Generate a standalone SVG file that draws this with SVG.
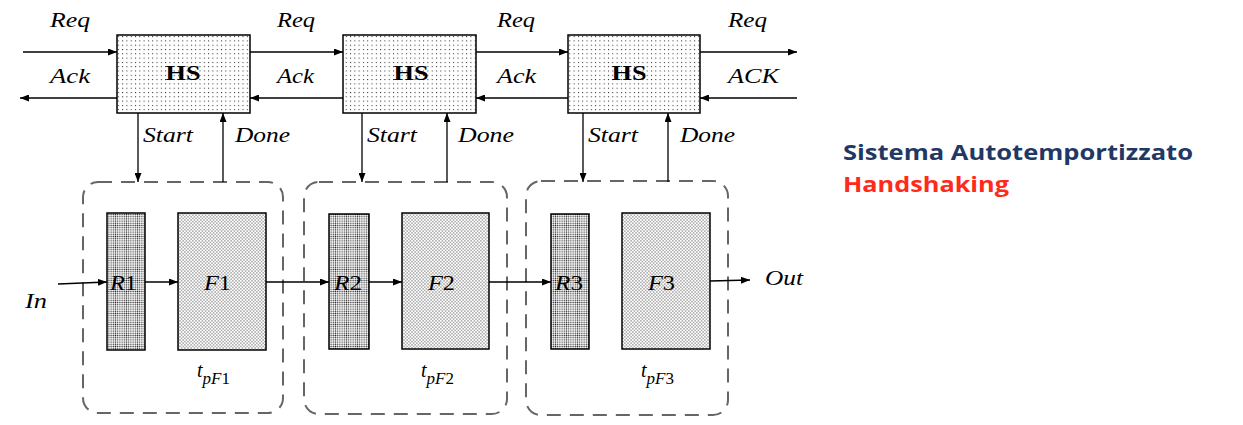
<svg xmlns="http://www.w3.org/2000/svg" width="1243" height="425" viewBox="0 0 1243 425">
<defs>
  <pattern id="pHS" width="4.3" height="4.3" patternUnits="userSpaceOnUse">
    <rect width="4.3" height="4.3" fill="#fff"/>
    <rect x="1.7" y="1.7" width="1" height="1" fill="#222"/>
  </pattern>
  <pattern id="pF" width="3.2" height="3.2" patternUnits="userSpaceOnUse">
    <rect width="3.2" height="3.2" fill="#fff"/>
    <circle cx="0.8" cy="0.8" r="0.52" fill="#222"/>
    <circle cx="2.4" cy="2.4" r="0.52" fill="#222"/>
  </pattern>
  <pattern id="pR" width="2.2" height="2.2" patternUnits="userSpaceOnUse">
    <rect width="2.2" height="2.2" fill="#fff"/>
    <circle cx="1.1" cy="1.1" r="0.68" fill="#222"/>
  </pattern>
  <marker id="arr" markerWidth="9" markerHeight="7" refX="9" refY="3.5" orient="auto" markerUnits="userSpaceOnUse">
    <path d="M0,0 L9,3.5 L0,7 z" fill="#000"/>
  </marker>
  <style>
    .hs { fill: url(#pHS); stroke: #000; stroke-width: 1.5; }
    .f { fill: url(#pF); stroke: #000; stroke-width: 1.5; }
    .r { fill: url(#pR); stroke: #000; stroke-width: 1.5; }
    .stage { fill: none; stroke: #666; stroke-width: 2; stroke-dasharray: 14 9; }
    .conn path { fill: none; stroke: #000; stroke-width: 1.3; marker-end: url(#arr); }
    .lbl { font-family: "Liberation Serif", "Times New Roman", serif; font-style: italic; font-size: 20px; fill: #000; }
    .hst { font-family: "Liberation Serif", "Times New Roman", serif; font-weight: bold; font-size: 20px; fill: #000; }
    .blk { font-family: "Liberation Serif", "Times New Roman", serif; font-style: italic; font-size: 22px; fill: #000; }
    .up { font-style: normal; }
    .title { font-family: "Open Sans", "Liberation Sans", sans-serif; font-weight: bold; font-size: 22px; }
  </style>
</defs>
<rect width="1243" height="425" fill="#fff"/>

<!-- stage boxes -->
<g id="stage1"><rect class="stage" x="83" y="182" width="200" height="231" rx="15"/></g>
<g id="stage2"><rect class="stage" x="304" y="182" width="203" height="232" rx="15"/></g>
<g id="stage3"><rect class="stage" x="526" y="181" width="202" height="234" rx="15"/></g>

<!-- HS nodes -->
<g id="hs1"><rect class="hs" x="117" y="35" width="133" height="78"/><text class="hst" x="183" y="80" text-anchor="middle" textLength="35" lengthAdjust="spacingAndGlyphs">HS</text></g>
<g id="hs2"><rect class="hs" x="343" y="35" width="133" height="78"/><text class="hst" x="411" y="80" text-anchor="middle" textLength="35" lengthAdjust="spacingAndGlyphs">HS</text></g>
<g id="hs3"><rect class="hs" x="568" y="35" width="132" height="78"/><text class="hst" x="629" y="80" text-anchor="middle" textLength="35" lengthAdjust="spacingAndGlyphs">HS</text></g>

<!-- registers and logic -->
<g id="r1"><rect class="r" x="107" y="213" width="38" height="137"/><text class="blk" x="110" y="290" textLength="27" lengthAdjust="spacingAndGlyphs">R<tspan class="up">1</tspan></text></g>
<g id="f1"><rect class="f" x="178" y="213" width="88" height="137"/><text class="blk" x="204" y="290" textLength="27" lengthAdjust="spacingAndGlyphs">F<tspan class="up">1</tspan></text></g>
<g id="r2"><rect class="r" x="329" y="214" width="40" height="135"/><text class="blk" x="334" y="290" textLength="28" lengthAdjust="spacingAndGlyphs">R<tspan class="up">2</tspan></text></g>
<g id="f2"><rect class="f" x="402" y="213" width="87" height="136"/><text class="blk" x="428" y="290" textLength="27" lengthAdjust="spacingAndGlyphs">F<tspan class="up">2</tspan></text></g>
<g id="r3"><rect class="r" x="551" y="214" width="38" height="135"/><text class="blk" x="555" y="290" textLength="28" lengthAdjust="spacingAndGlyphs">R<tspan class="up">3</tspan></text></g>
<g id="f3"><rect class="f" x="622" y="213" width="88" height="136"/><text class="blk" x="648" y="290" textLength="27" lengthAdjust="spacingAndGlyphs">F<tspan class="up">3</tspan></text></g>

<!-- connectors -->
<g id="connectors" class="conn">
  <path d="M23,52 H117"/>
  <path d="M117,98 H20"/>
  <path d="M250,52 H343"/>
  <path d="M343,98 H250"/>
  <path d="M476,52 H568"/>
  <path d="M568,98 H476"/>
  <path d="M700,52 H797"/>
  <path d="M797,98 H700"/>
  <path d="M138,113 V182"/>
  <path d="M223,182 V113"/>
  <path d="M362,113 V182"/>
  <path d="M447,182 V113"/>
  <path d="M583,113 V182"/>
  <path d="M668,182 V113"/>
  <path d="M58,284 L107,282"/>
  <path d="M145,282 H178"/>
  <path d="M266,282 H329"/>
  <path d="M369,282 H402"/>
  <path d="M489,282 H551"/>
  <path d="M710,281 L750,280"/>
</g>

<!-- labels -->
<g id="labels">
  <text class="lbl" x="50" y="27" textLength="40" lengthAdjust="spacingAndGlyphs">Req</text>
  <text class="lbl" x="50" y="83" textLength="40" lengthAdjust="spacingAndGlyphs">Ack</text>
  <text class="lbl" x="277" y="27" textLength="38" lengthAdjust="spacingAndGlyphs">Req</text>
  <text class="lbl" x="277" y="83" textLength="37" lengthAdjust="spacingAndGlyphs">Ack</text>
  <text class="lbl" x="497" y="27" textLength="38" lengthAdjust="spacingAndGlyphs">Req</text>
  <text class="lbl" x="497" y="83" textLength="39" lengthAdjust="spacingAndGlyphs">Ack</text>
  <text class="lbl" x="728" y="27" textLength="39" lengthAdjust="spacingAndGlyphs">Req</text>
  <text class="lbl" x="728" y="83" textLength="51" lengthAdjust="spacingAndGlyphs">ACK</text>
  <text class="lbl" x="143" y="142" textLength="50" lengthAdjust="spacingAndGlyphs">Start</text>
  <text class="lbl" x="235" y="142" textLength="55" lengthAdjust="spacingAndGlyphs">Done</text>
  <text class="lbl" x="367" y="142" textLength="50" lengthAdjust="spacingAndGlyphs">Start</text>
  <text class="lbl" x="458" y="142" textLength="56" lengthAdjust="spacingAndGlyphs">Done</text>
  <text class="lbl" x="588" y="142" textLength="50" lengthAdjust="spacingAndGlyphs">Start</text>
  <text class="lbl" x="680" y="142" textLength="55" lengthAdjust="spacingAndGlyphs">Done</text>
  <text class="lbl" x="25" y="308" textLength="22" lengthAdjust="spacingAndGlyphs">In</text>
  <text class="lbl" x="765" y="285" textLength="38" lengthAdjust="spacingAndGlyphs">Out</text>
  <text class="lbl" x="197" y="377" font-size="22">t<tspan font-size="17" dy="7">pF</tspan><tspan font-size="17" class="up">1</tspan></text>
  <text class="lbl" x="421" y="377" font-size="22">t<tspan font-size="17" dy="7">pF</tspan><tspan font-size="17" class="up">2</tspan></text>
  <text class="lbl" x="641" y="377" font-size="22">t<tspan font-size="17" dy="7">pF</tspan><tspan font-size="17" class="up">3</tspan></text>
</g>

<g id="title">
  <text class="title" x="843" y="160" fill="#1F3864" textLength="350" lengthAdjust="spacingAndGlyphs">Sistema Autotemportizzato</text>
  <text class="title" x="843" y="192" fill="#FF2A1A" textLength="166" lengthAdjust="spacingAndGlyphs">Handshaking</text>
</g>
</svg>
